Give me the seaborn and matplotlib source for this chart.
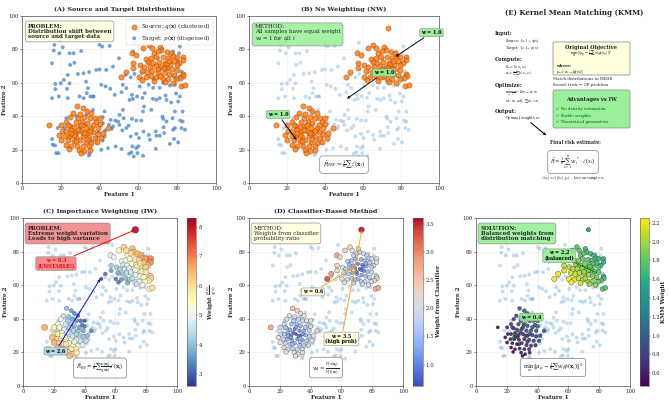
import numpy as np
import matplotlib
matplotlib.use("Agg")
import matplotlib.pyplot as plt
import seaborn as sns
from matplotlib.colors import Normalize
from matplotlib.cm import ScalarMappable
from matplotlib.patches import FancyBboxPatch

# ---- data (feature space 0..100) ----
target_x = [16.7, 16.4, 19.3, 21.0, 24.5, 26.6, 24.8, 15.5, 23.6, 28.8, 31.7, 21.6, 20.0, 17.2, 17.2, 24.5,
            15.5, 19.0, 23.6, 29.7, 33.0, 34.0, 35.2, 36.6, 33.4, 38.3, 40.0, 43.4, 46.9, 40.9, 43.1, 40.0,
            41.4, 45.2, 50.0, 47.8, 52.0, 53.8, 53.4, 56.0, 57.8, 57.2, 58.0, 55.5, 57.2, 59.3, 60.7, 63.3,
            65.3, 62.9, 62.4, 52.0, 50.3, 49.5, 46.9, 44.8, 45.7, 41.7, 42.9, 48.3, 44.3, 40.9, 38.6, 38.3,
            42.6, 53.8, 56.0, 51.7, 56.9, 55.2, 56.4, 57.6, 58.9, 59.5, 60.3, 62.4, 65.9, 69.0, 69.3, 71.0,
            73.3, 69.0, 72.4, 72.8, 74.5, 77.6, 78.8, 77.9, 78.8, 80.5, 82.2, 84.0, 82.8, 82.8, 81.4, 80.5,
            76.9, 74.5, 69.3, 71.0, 66.7, 78.8, 79.1, 81.4, 82.2, 80.5, 81.0, 81.4, 77.9, 72.8, 71.0, 67.6,
            22.8, 18.4, 15.5, 15.9, 17.0, 17.6, 18.8, 34.8, 34.5, 33.4, 36.9, 36.6, 34.6, 23.2, 31.8, 45.5,
            51.3, 56.7, 62.1, 67.5, 74.0, 79.4, 76.2, 56.7, 58.9, 61.5, 52.4, 48.1, 50.2, 55.0, 46.3, 58.9,
            62.6, 65.4, 73.0, 81.6, 78.4, 76.2, 60.0, 51.3, 41.6, 39.4, 42.6, 41.6, 25.0, 33.0, 28.0, 36.0,
            22.0, 65.0, 75.0, 70.0, 78.0, 62.0, 68.0, 72.0, 27.0, 19.5, 30.5]
target_y = [82.7, 79.3, 77.7, 81.3, 77.7, 77.7, 70.7, 71.7, 64.7, 65.3, 65.7, 61.7, 59.7, 59.3, 56.2, 59.7,
            50.8, 51.8, 50.8, 51.8, 60.7, 56.8, 51.8, 51.8, 53.8, 67.7, 68.0, 67.7, 69.7, 58.8, 57.8, 82.7,
            81.7, 82.1, 74.7, 52.8, 58.8, 56.8, 64.7, 63.3, 84.0, 78.7, 65.3, 49.8, 50.4, 51.8, 57.8, 53.8,
            58.8, 45.8, 42.8, 43.8, 40.8, 36.8, 33.9, 34.9, 37.8, 35.9, 31.5, 21.9, 20.9, 19.9, 23.9, 27.3,
            27.9, 32.9, 27.9, 31.5, 21.9, 17.5, 18.3, 15.9, 20.9, 17.9, 26.9, 16.3, 25.9, 30.9, 28.3, 28.3,
            29.9, 20.5, 39.8, 38.4, 36.8, 38.8, 42.8, 31.9, 32.9, 24.3, 32.9, 31.9, 42.8, 36.8, 51.8, 48.8,
            48.2, 49.8, 49.8, 50.8, 43.8, 58.8, 62.5, 63.7, 66.7, 72.7, 77.7, 81.7, 78.7, 60.0, 57.0, 57.0,
            38.8, 32.9, 26.3, 22.9, 22.5, 17.9, 17.9, 17.5, 16.5, 40.8, 51.8, 43.8, 66.4, 56.4, 50.8, 56.4,
            54.4, 52.8, 51.0, 50.4, 52.4, 53.6, 58.4, 38.4, 37.4, 37.4, 38.8, 37.4, 34.8, 34.4, 32.4, 29.4,
            30.8, 28.8, 33.4, 37.4, 26.4, 23.4, 22.0, 20.4, 25.4, 30.4, 42.8, 39.4, 28.0, 35.0, 40.0, 25.0,
            33.0, 72.0, 68.0, 75.0, 64.0, 66.0, 62.0, 80.0, 72.0, 85.5, 79.0]

# source cluster 1 (around 30, 30) incl. outlier at (14, 35)
src1_x = [28.3, 31.4, 26.2, 33.4, 35.7, 24.5, 29.1, 32.2, 34.8, 37.4, 22.8, 27.6, 31.0, 33.4, 38.3, 40.0,
          20.2, 24.5, 26.6, 29.7, 32.8, 35.7, 39.1, 44.3, 20.7, 22.8, 25.3, 27.6, 30.5, 33.4, 36.6, 39.1,
          19.0, 22.4, 24.8, 27.9, 31.4, 34.5, 37.4, 40.9, 20.2, 23.6, 26.6, 29.7, 32.8, 35.7, 38.6, 22.8,
          25.3, 28.3, 31.4, 34.5, 24.1, 29.3, 31.9, 30.2, 34.8, 28.8, 27.0, 32.2, 34.8, 30.5, 25.3, 33.4,
          28.0, 36.6, 23.6, 29.7, 40.0, 41.7, 14.1]
src1_y = [46.2, 44.8, 41.8, 43.2, 41.8, 39.8, 38.8, 39.8, 38.8, 38.8, 36.8, 36.8, 36.8, 35.9, 36.3, 35.5,
          34.9, 34.3, 33.5, 33.9, 32.9, 32.9, 32.9, 32.9, 30.9, 30.9, 31.5, 30.3, 30.9, 29.9, 30.3, 29.5,
          28.9, 27.9, 27.9, 27.5, 27.9, 27.5, 26.9, 26.9, 25.9, 25.5, 24.9, 25.5, 24.3, 23.9, 24.3, 22.9,
          21.9, 22.3, 21.9, 21.9, 20.3, 19.9, 18.9, 17.9, 19.9, 31.9, 29.0, 29.9, 30.9, 34.9, 29.9, 26.3,
          24.9, 34.9, 34.9, 41.2, 38.8, 29.9, 34.9]
# source cluster 2 (around 72, 70) incl. outliers at (50, 64) and (73, 93)
src2_x = [56.9, 62.4, 65.5, 71.0, 67.9, 71.9, 74.5, 76.6, 77.9, 79.7, 82.8, 82.8, 64.1, 66.6, 69.3, 72.8,
          75.3, 78.3, 81.0, 65.0, 67.6, 70.7, 73.6, 76.2, 79.7, 60.7, 57.2, 62.8, 65.9, 69.0, 71.9, 74.5,
          77.1, 79.7, 82.8, 83.1, 61.6, 64.5, 67.2, 70.1, 73.1, 75.9, 78.3, 81.4, 53.4, 60.3, 63.8, 66.7,
          69.3, 72.8, 75.3, 79.3, 62.0, 67.9, 73.8, 77.6, 82.2, 84.0, 59.0, 57.2, 70.0, 67.0, 74.0, 70.0,
          76.0, 71.0, 73.0, 50.8, 73.0]
src2_y = [77.7, 80.7, 82.7, 81.7, 77.7, 79.7, 78.7, 77.7, 76.1, 75.7, 75.7, 73.7, 74.3, 74.7, 75.7, 75.3,
          74.7, 73.3, 71.7, 72.3, 71.7, 72.7, 72.1, 71.3, 70.7, 70.7, 71.7, 69.7, 69.7, 70.1, 69.7, 68.7,
          68.1, 67.7, 65.3, 64.1, 67.3, 66.7, 67.3, 66.7, 66.1, 65.3, 64.7, 62.7, 66.7, 63.7, 63.3, 64.1,
          63.3, 62.1, 62.1, 62.1, 61.7, 61.3, 60.7, 60.1, 57.8, 58.4, 76.7, 68.7, 79.0, 80.7, 71.0, 68.0,
          73.0, 64.0, 69.0, 63.7, 93.0]

sx = np.array(src1_x + src2_x)
sy = np.array(src1_y + src2_y)
grp = np.array([1] * len(src1_x) + [2] * len(src2_x))

# weights derived from the point positions
d_mid = np.hypot(sx - 50, sy - 50)
w_iw = np.clip(2.6 + 0.164 * (d_mid - 14), 2.6, None)
cx = np.where(grp == 1, np.mean(src1_x[:-1]), np.mean(src2_x[:-2]))
cy = np.where(grp == 1, np.mean(src1_y[:-1]), np.mean(src2_y[:-2]))
w_clf = 0.6 + 0.13 * np.hypot(sx - cx, sy - cy)
w_kmm = np.where(grp == 1, 1.1 - 0.025 * (d_mid - 14), 2.3 - 0.026 * (d_mid - 14))
w_kmm = np.clip(w_kmm, 0.45, 2.25)

kmm_ticks = [0.6, 0.8, 1.0, 1.2, 1.4, 1.6, 1.8, 2.0, 2.2]

# ---- styling ----
sns.set_style("ticks")
plt.rcParams['font.family'] = ['DejaVu Serif', 'DejaVu Sans']
plt.rcParams['mathtext.fontset'] = 'dejavuserif'
plt.rcParams['axes.edgecolor'] = '0.35'
plt.rcParams['axes.linewidth'] = 1.6

W, H = 669, 402
DPI = 33.45
fig = plt.figure(figsize=(W / DPI, H / DPI), dpi=DPI)


def px(l, r, t, b):
    return [l / W, 1 - b / H, (r - l) / W, (b - t) / H]


axA = fig.add_axes(px(22, 216, 16, 183))
axB = fig.add_axes(px(249, 439, 16, 183))
axC = fig.add_axes(px(23, 177, 218, 386))
caxC = fig.add_axes(px(187, 196, 218, 386))
axD = fig.add_axes(px(249, 403, 218, 386))
caxD = fig.add_axes(px(413, 423, 218, 386))
axE = fig.add_axes(px(476, 630, 218, 386))
caxE = fig.add_axes(px(640, 649, 218, 386))
axT = fig.add_axes(px(440, 669, 0, 201))

TGT = '#3a7dc9'
SRC = '#ff7f0e'


def style(ax, title=None):
    ax.set_xlim(0, 100)
    ax.set_ylim(0, 100)
    ax.set_xlabel('Feature 1', fontsize=12.5, fontweight='bold', labelpad=2)
    ax.set_ylabel('Feature 2', fontsize=12.5, fontweight='bold', labelpad=4)
    ax.grid(True, alpha=0.3, lw=1.5)
    ax.tick_params(labelsize=11.5, width=1.2, length=4, pad=3)
    if title:
        ax.set_title(title, fontsize=14, fontweight='bold', pad=10)


def faded_target(ax):
    sns.scatterplot(x=target_x, y=target_y, ax=ax, color='#6fa8dc', alpha=0.4, s=70,
                    edgecolor='none', zorder=2)


def tbox(ax, txt, fc, bold=True, alpha=0.85):
    ax.text(0.03, 0.955, txt, transform=ax.transAxes, fontsize=12, va='top', linespacing=1.1,
            fontweight='bold' if bold else 'normal', zorder=6,
            bbox=dict(boxstyle='round,pad=0.45', facecolor=fc, edgecolor='gray', alpha=alpha, lw=1.5))


def formula(ax, txt, x=50, y=11, fs=12.5):
    ax.text(x, y, txt, ha='center', va='center', fontsize=fs, zorder=6,
            bbox=dict(boxstyle='round,pad=0.5', facecolor='white', edgecolor='gray', lw=1.5))


def colorbar(cax, cmap, norm, label, pad=4, ticks=None):
    cb = fig.colorbar(ScalarMappable(norm=norm, cmap=cmap), cax=cax, ticks=ticks)
    cb.set_label(label, fontsize=12.5, fontweight='bold', labelpad=pad)
    cb.ax.tick_params(labelsize=11.5, pad=2)
    cb.outline.set_linewidth(1.2)
    return cb


def tag(ax, txt, xy, xt, fc, arrow_color, style='->', color='black'):
    ax.annotate(txt, xy=xy, xytext=xt, ha='center', va='center', fontsize=10.5, fontweight='bold',
                color=color, annotation_clip=False, zorder=7, linespacing=1.1,
                bbox=dict(boxstyle='round,pad=0.3', facecolor=fc, edgecolor='gray', lw=1.2, alpha=0.9),
                arrowprops=dict(arrowstyle=style, color=arrow_color, lw=2))


# ---- (A) ----
style(axA, '(A) Source and Target Distributions')
sns.scatterplot(x=target_x, y=target_y, ax=axA, color=TGT, alpha=0.7, s=70, edgecolor='none',
                label=r'Target: $p(\mathbf{x})$ (dispersed)', zorder=2)
sns.scatterplot(x=sx, y=sy, ax=axA, color=SRC, s=130, edgecolor='#8b2500', linewidth=0.8, alpha=0.85,
                label=r'Source: $q(\mathbf{x})$ (clustered)', zorder=3)
h, l = axA.get_legend_handles_labels()
axA.legend(h[::-1], l[::-1], loc='upper right', fontsize=12, framealpha=0.9, borderpad=0.4,
           handletextpad=0.3, labelspacing=0.3)
tbox(axA, 'PROBLEM:\nDistribution shift between\nsource and target data', 'lightyellow')

# ---- (B) ----
style(axB, '(B) No Weighting (NW)')
faded_target(axB)
sns.scatterplot(x=sx, y=sy, ax=axB, color=SRC, s=130, edgecolor='#8b2500', linewidth=0.8, alpha=0.85,
                zorder=3, legend=False)
tbox(axB, 'METHOD:\nAll samples have equal weight\n$w_i = 1$ for all $i$', 'lightgreen', bold=False, alpha=0.8)
for xy, xt in [((25.3, 25.3), (15.3, 41)), ((51.2, 50.2), (71, 66)), ((76.7, 75.3), (96, 90))]:
    tag(axB, 'w = 1.0', xy, xt, 'lightgreen', 'black')
formula(axB, r'$\hat{R}_{NW} = \frac{1}{n}\sum\ell(\mathbf{x}_i)$', y=11)

# ---- (C) ----
style(axC, '(C) Importance Weighting (IW)')
faded_target(axC)
normC = Normalize(w_iw.min(), w_iw.max())
sns.scatterplot(x=sx, y=sy, ax=axC, hue=w_iw, palette='RdYlBu_r', hue_norm=normC, size=w_iw,
                sizes=(60, 220), size_norm=normC, edgecolor='0.3', linewidth=0.7, alpha=0.85,
                zorder=3, legend=False)
colorbar(caxC, 'RdYlBu_r', normC, r'Weight $\frac{p(x)}{q(x)}$')
tbox(axC, 'PROBLEM:\nExtreme weight variation\nLeads to high variance', 'lightcoral')
tag(axC, 'w = 8.3\n(UNSTABLE!)', (73, 93), (21.4, 72.9), 'lightcoral', 'red', color='red')
tag(axC, 'w = 2.6', (50.4, 64.1), (21.2, 20.8), 'lightblue', 'blue')
formula(axC, r'$\hat{R}_{IW} = \frac{1}{n}\sum\frac{p(\mathbf{x}_i)}{q(\mathbf{x}_i)}\ell(\mathbf{x}_i)$',
        y=10.7, fs=11.5)

# ---- (D) ----
style(axD, '(D) Classifier-Based Method')
faded_target(axD)
normD = Normalize(w_clf.min(), w_clf.max())
sns.scatterplot(x=sx, y=sy, ax=axD, hue=w_clf, palette='coolwarm', hue_norm=normD, size=w_clf,
                sizes=(45, 150), size_norm=normD, edgecolor='0.2', linewidth=0.8, alpha=0.85,
                zorder=3, legend=False)
colorbar(caxD, 'coolwarm', normD, 'Weight from Classifier')
tbox(axD, 'METHOD:\nWeights from classifier\nprobability ratio', 'lightyellow', bold=False)
tag(axD, 'w = 0.6', (69, 71), (41.5, 56), 'lightyellow', 'orange')
tag(axD, 'w = 3.5\n(high prob)', (73.3, 93), (60, 28), 'lightyellow', 'orange')
formula(axD, r'$w_i = \frac{\hat{P}(s|\mathbf{x}_i)}{\hat{P}(t|\mathbf{x}_i)}$', y=11, fs=12)

# ---- (E) scatter ----
style(axE)
faded_target(axE)
normE = Normalize(w_kmm.min(), w_kmm.max())
sns.scatterplot(x=sx, y=sy, ax=axE, hue=w_kmm, palette='viridis', hue_norm=normE, size=w_kmm,
                sizes=(45, 130), size_norm=normE, edgecolor='0.15', linewidth=0.8, alpha=0.9,
                zorder=3, legend=False)
colorbar(caxE, 'viridis', normE, 'KMM Weight', pad=1, ticks=kmm_ticks)
tbox(axE, 'SOLUTION:\nBalanced weights from\ndistribution matching', 'lightgreen')
tag(axE, 'w = 2.2\n(balanced)', (78.4, 67.4), (54, 77.6), 'lightgreen', 'green', style='-')
tag(axE, 'w = 0.4', (21, 26.4), (36, 41), 'lightgreen', 'green', style='-')
formula(axE, r'$\min_w \|\mu_p - \frac{1}{n}\sum w_i\phi(\mathbf{x}_i)\|^2$', y=11, fs=11.5)

# ---- (E) text panel ----
axT.set_xlim(440, 669)
axT.set_ylim(201, 0)
axT.axis('off')
axT.text(574, 13, '(E) Kernel Mean Matching (KMM)', ha='center', va='center', fontsize=15.5, fontweight='bold')
steps = [(495, 34, 'Input:', True), (505, 41, r'Source: $\{x_i\} \sim q(x)$', False),
         (505, 48, r'Target: $\{z_j\} \sim p(x)$', False),
         (495, 60, 'Compute:', True), (505, 67, r'$K_{ij} = k(x_i, x_j)$', False),
         (505, 74.5, r'$\kappa_i = \frac{n}{m}\sum_j k(x_i, z_j)$', False),
         (495, 86, 'Optimize:', True), (505, 93, r'$\min_w \frac{1}{2} w^T K w - \kappa^T w$', False),
         (505, 101, r's.t. $w_i \geq 0$, $\sum w_i = n$', False),
         (495, 112, 'Output:', True), (505, 119, r'Optimal weights $w^*$', False)]
for x, y, t, b in steps:
    axT.text(x, y, t, ha='left', va='center', fontsize=11 if b else 7.5,
             fontweight='bold' if b else 'normal')

axT.add_patch(FancyBboxPatch((553, 42), 77, 33, boxstyle='round,pad=0,rounding_size=1.5',
                             facecolor='lightyellow', edgecolor='gray', lw=1.5))
axT.text(591, 47, 'Original Objective', ha='center', va='center', fontsize=11, fontweight='bold')
axT.text(591, 54, r'$\min_w \|\mu_p - \frac{1}{n}\sum w_i\phi(x_i)\|^2$', ha='center', va='center', fontsize=8)
axT.text(556, 66, 'where:', ha='left', va='center', fontsize=9, fontweight='bold')
axT.text(556, 72, r'$\mu_p = \mathbb{E}_{x\sim p}[\phi(x)]$', ha='left', va='center', fontsize=7.5)
axT.text(553, 79, 'Match distributions in RKHS', ha='left', va='center', fontsize=8.5)
axT.text(553, 85, 'Kernel trick → QP problem', ha='left', va='center', fontsize=8.5)

axT.add_patch(FancyBboxPatch((553, 90), 77, 38, boxstyle='round,pad=0,rounding_size=1.5',
                             facecolor='lightgreen', edgecolor='gray', lw=1.5, alpha=0.9))
axT.text(591, 99, 'Advantages vs IW', ha='center', va='center', fontsize=11, fontweight='bold')
for y, t in [(109, '✓ No density estimation'), (115.5, '✓ Stable weights'), (122, '✓ Theoretical guarantees')]:
    axT.text(556, y, t, ha='left', va='center', fontsize=8.5, color='darkgreen')

axT.annotate('', xy=(547, 136), xytext=(530, 122),
             arrowprops=dict(arrowstyle='->', color='black', lw=2.2))
axT.text(575, 142, 'Final risk estimate:', ha='center', va='center', fontsize=10, fontweight='bold')
axT.text(573, 162, r'$\hat{R} = \frac{1}{n}\sum_{i=1}^{n} w_i^* \cdot \ell(x_i)$', ha='center', va='center',
         fontsize=11, bbox=dict(boxstyle='round,pad=0.5', facecolor='white', edgecolor='gray', lw=1.5))
axT.text(573, 178, r'$\ell(x_i) = \ell(f(x_i), y_i)$ – loss on sample $x_i$', ha='center', va='center',
         fontsize=7.5)

fig.savefig('out.png', dpi=DPI)
